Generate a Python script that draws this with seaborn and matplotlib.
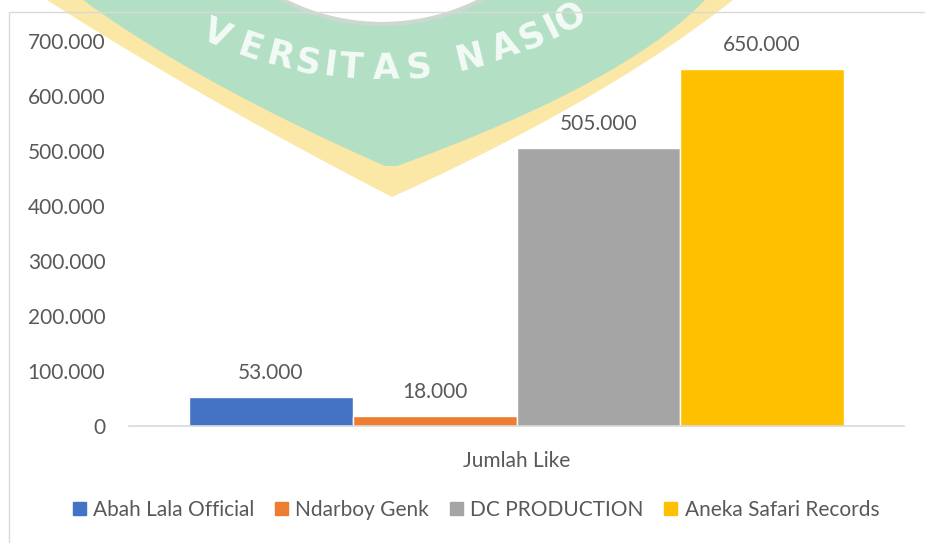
import matplotlib
matplotlib.use("Agg")
import matplotlib.pyplot as plt
import matplotlib.patches as mpatches
import numpy as np
import pandas as pd
import seaborn as sns

# data
kategori = ["Jumlah Like"]
channel = ["Abah Lala Official", "Ndarboy Genk", "DC PRODUCTION", "Aneka Safari Records"]
jumlah_like = [53000, 18000, 505000, 650000]
warna = ["#4472C4", "#ED7D31", "#A5A5A5", "#FFC000"]
yticks = [0, 100000, 200000, 300000, 400000, 500000, 600000, 700000]

def titik(v):
    return f"{v:,.0f}".replace(",", ".")

df = pd.DataFrame({
    "kategori": kategori * len(channel),
    "channel": channel,
    "like": jumlah_like,
})

sns.set_style("white")
plt.rcParams["font.family"] = ["Lato", "DejaVu Sans"]
teks = "#595959"
ukuran = 15

W, H = 925, 543
fig = plt.figure(figsize=(W / 100, H / 100), dpi=100)

def px(x, y):
    return (x / W, 1 - y / H)

def sisi(p0, p1, p2, n=30):
    # sisi perisai melengkung lewat tiga titik (x sebagai fungsi y)
    ys = np.array([p0[1], p1[1], p2[1]], float)
    xs = np.array([p0[0], p1[0], p2[0]], float)
    k = np.polyfit(ys, xs, 2)
    yy = np.linspace(ys[0], ys[2], n)
    return [px(x, y) for x, y in zip(np.polyval(k, yy), yy)]

# watermark logo universitas (latar belakang)
kiri_k = sisi((47, 0), (213, 100), (392, 197))
kanan_k = sisi((733, 0), (583, 100), (392, 197))[::-1]
kiri_h = sisi((83, 0), (247, 100), (385, 166))
kanan_h = sisi((705, 0), (555, 100), (397, 166))[::-1]
kuning = mpatches.Polygon(kiri_k + kanan_k, closed=True, transform=fig.transFigure,
                          facecolor="#fbe7a6", edgecolor="none", zorder=0)
hijau = mpatches.Polygon(kiri_h + kanan_h, closed=True, transform=fig.transFigure,
                         facecolor="#b3e0c5", edgecolor="none", zorder=0)
cx, cy, R = 382, -192, 216
lingkaran = mpatches.Ellipse(px(cx, cy), 2 * R / W, 2 * R / H,
                             transform=fig.transFigure, facecolor="white",
                             edgecolor="#cdd8d0", lw=3, zorder=0)
for p in (kuning, hijau, lingkaran):
    fig.patches.append(p)

# huruf yang terlihat dari tulisan melengkung "UNIVERSITAS NASIONAL"
huruf = list("VERSITASNASIO")
sudut = [-24.3, -18.9, -14.3, -10.2, -6.9, -3.7, 1.3, 6.2,
         13.9, 19.1, 23.4, 26.6, 29.6]
tx, ty, r_teks = 377, -322, 391
for ch, a in zip(huruf, sudut):
    th = np.radians(a)
    x = tx + r_teks * np.sin(th)
    y = ty + r_teks * np.cos(th)
    fig.text(*px(x, y), ch, ha="center", va="center", rotation=a,
             fontsize=25, fontweight="bold", color="white", alpha=0.85,
             family="DejaVu Sans", zorder=1)

# bingkai chart
bingkai = mpatches.Rectangle(px(9, 560), 940 / W, 548 / H, transform=fig.transFigure,
                             facecolor="none", edgecolor="#d9d9d9", lw=1.0, zorder=2)
fig.patches.append(bingkai)

ax = fig.add_axes([129 / W, (H - 426) / H, (904 - 129) / W, (426 - 41) / H])
ax.set_facecolor("none")

sns.barplot(data=df, x="kategori", y="like", hue="channel", hue_order=channel,
            palette=warna, saturation=1, width=0.845, gap=0, ax=ax, legend=False)

for cont, v in zip(ax.containers, jumlah_like):
    ax.bar_label(cont, labels=[titik(v)], padding=10, fontsize=ukuran, color=teks)

ax.set_ylim(0, 700000)
ax.set_yticks(yticks)
ax.set_yticklabels([titik(v) for v in yticks])
ax.tick_params(axis="y", length=0, pad=17, labelsize=ukuran, labelcolor=teks)
ax.tick_params(axis="x", length=0, pad=18, labelsize=ukuran, labelcolor=teks)
ax.set_xlabel("")
ax.set_ylabel("")
for s in ("left", "right", "top"):
    ax.spines[s].set_visible(False)
ax.spines["bottom"].set_color("#d9d9d9")
ax.spines["bottom"].set_linewidth(1.2)

handles = [mpatches.Patch(color=c, label=n) for c, n in zip(warna, channel)]
fig.legend(handles=handles, loc="center", bbox_to_anchor=(476 / W, 1 - 510 / H),
           ncol=4, frameon=False, fontsize=ukuran, labelcolor=teks,
           handlelength=0.62, handleheight=0.62, handletextpad=0.35,
           columnspacing=1.0)

fig.savefig("out.png", dpi=100)
